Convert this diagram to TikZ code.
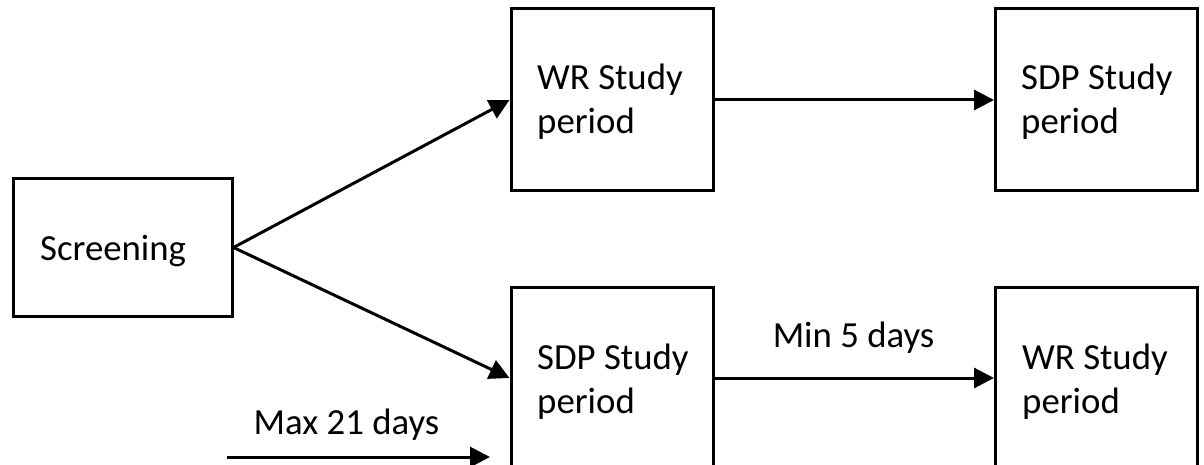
\documentclass[tikz,border=0pt]{standalone}
\usepackage{fontspec}
\setmainfont{Carlito}
\usetikzlibrary{arrows.meta}
\begin{document}
\begin{tikzpicture}[x=1pt,y=-1pt,
  box/.style={draw=black,line width=3pt,minimum width=202pt,minimum height=182pt,inner sep=0pt},
  txt/.style={font=\fontsize{36.8pt}{44pt}\selectfont,align=left,anchor=base west,inner sep=0pt},
  arr/.style={line width=3pt,-{Triangle[length=20pt,width=20pt]}}]
\useasboundingbox (0,0) rectangle (1204,465);
\node[box,minimum width=219pt,minimum height=137pt] (scr) at (122.5,247.5) {};
\node[box] (wr1) at (612,100) {};
\node[box] (sdp1) at (1096.5,100) {};
\node[box] (sdp2) at (612,378) {};
\node[box] (wr2) at (1096.5,378) {};
\node[txt] (tscr) at (40,260) {Screening};
\node[txt] (twr1) at (537,134) {WR Study\\period};
\node[txt] (tsdp1) at (1021,134) {SDP Study\\period};
\node[txt] (tsdp2) at (537,413) {SDP Study\\period};
\node[txt] (twr2) at (1022,413) {WR Study\\period};
\draw[arr] (scr.east) -- (wr1.west);
\draw[arr] (scr.east) -- (sdp2.west);
\draw[arr] (wr1.east) -- (sdp1.west);
\draw[arr] (sdp2.east) -- (wr2.west);
\node[txt,anchor=base] (lmin) at (853.5,347) {Min 5 days};
\coordinate (m1) at (227,457);
\coordinate (m2) at (490,457);
\draw[arr] (m1) -- (m2);
\node[txt,anchor=base] (lmax) at (346.5,434) {Max 21 days};
\end{tikzpicture}
\end{document}
